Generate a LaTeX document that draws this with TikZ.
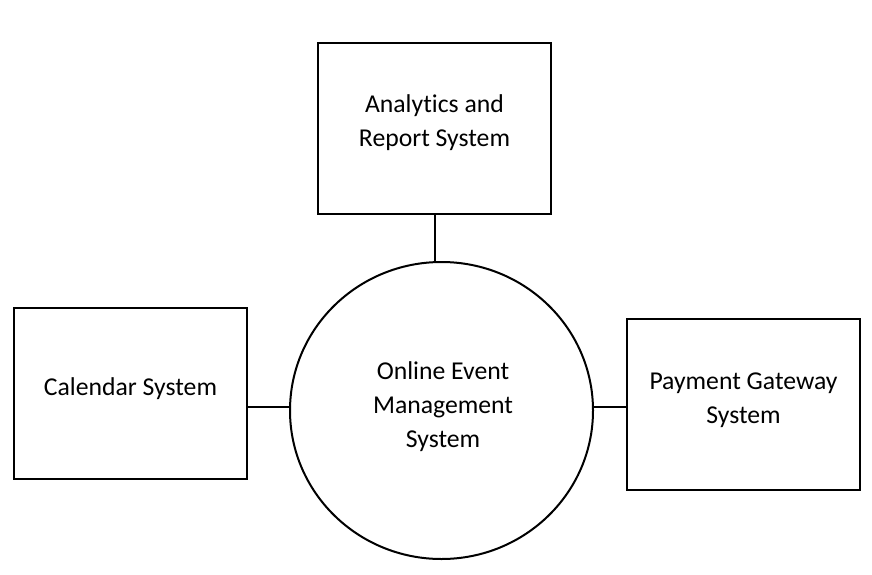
\documentclass[tikz,border=0pt]{standalone}
\usepackage{fontspec}
\setmainfont[Ligatures={NoCommon}]{Carlito}
\usetikzlibrary{shapes.geometric}
\begin{document}
\begin{tikzpicture}[x=1pt,y=-1pt,
  sysbox/.style={draw,line width=2pt,minimum width=233pt,minimum height=171pt,inner sep=0pt,align=center,font=\fontsize{25.7}{34}\selectfont},
  proc/.style={draw,ellipse,line width=2pt,minimum width=303pt,minimum height=297pt,inner sep=0pt,align=center,font=\fontsize{25.7}{34}\selectfont},
  lbl/.style={font=\fontsize{25.7}{34}\selectfont,align=center},
  link/.style={line width=2pt}]
\useasboundingbox (0,0) rectangle (872,575);
\node[sysbox] (top) at (434.5,128.5) {};
\node[lbl] at (434.5,123) (toptxt) {Analytics and\\Report System};
\node[sysbox] (left) at (130.5,393.5) {};
\node[lbl] at (130.5,389) (lefttxt) {Calendar System};
\node[sysbox] (right) at (743.5,404.5) {};
\node[lbl] at (743.5,400) (righttxt) {Payment Gateway\\System};
\node[proc] (core) at (441.5,410.5) {};
\node[lbl] at (443,407) (coretxt) {Online Event\\Management\\System};
\draw[link] (top.south) -- (top.south |- core.north);
\draw[link] (left.east |- 0,407) coordinate (l1) -- (core.west |- l1);
\draw[link] (core.east |- 0,407) coordinate (r1) -- (right.west |- r1);
\end{tikzpicture}
\end{document}
